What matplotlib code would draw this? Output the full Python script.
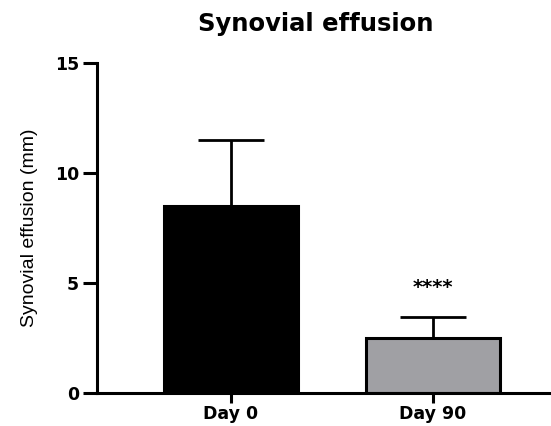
import matplotlib.pyplot as plt
import numpy as np

plt.rcParams['font.family'] = ['DejaVu Sans']

groups = ['Day 0', 'Day 90']
means = [8.5, 2.5]
sd_up = [3.0, 0.95]
colors = ['#000000', '#a0a0a4']
signif = '****'

fig = plt.figure(figsize=(5.51, 4.26), dpi=100)
ax = fig.add_axes([0.176, 0.0775, 0.824, 0.7746])

x = np.arange(len(groups))
ax.bar(x, means, width=0.66, color=colors, edgecolor='black', linewidth=2.2, zorder=2)
ax.errorbar(x, means, yerr=[np.zeros(len(means)), sd_up], fmt='none', ecolor='black',
            elinewidth=2, capsize=24, capthick=2, zorder=1)
ax.text(x[1], means[1] + sd_up[1] + 1.35, signif, ha='center', va='center',
        fontsize=14, fontweight='bold')

ax.set_xlim(-0.663, 1.584)
ax.set_ylim(0, 15)
ax.set_yticks([0, 5, 10, 15])
ax.set_xticks(x)
ax.set_xticklabels(groups, fontsize=12.5, fontweight='bold')
for lab in ax.get_yticklabels():
    lab.set_fontweight('bold')
    lab.set_fontsize(12.5)
ax.set_ylabel('Synovial effusion (mm)', fontsize=14, labelpad=12,
              family='Liberation Sans')

for s in ['top', 'right']:
    ax.spines[s].set_visible(False)
for s in ['left', 'bottom']:
    ax.spines[s].set_linewidth(2.2)
ax.tick_params(axis='both', width=2.2, length=8)
ax.tick_params(axis='x', length=7, pad=2)
ax.tick_params(axis='y', length=10, pad=3)

fig.text(316 / 551, 1 - 24 / 426, 'Synovial effusion', ha='center', va='center',
         fontsize=17.5, fontweight='bold')

fig.savefig('out.png', dpi=100)
